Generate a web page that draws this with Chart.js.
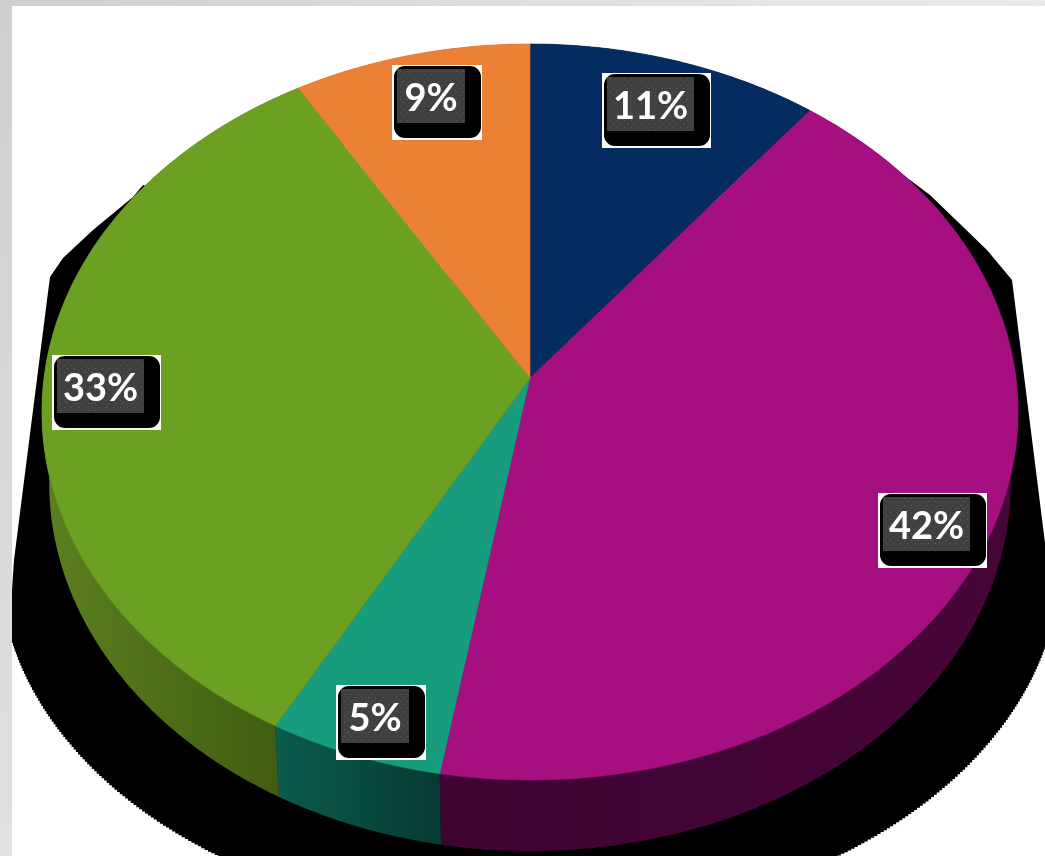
<!DOCTYPE html>
<html>
<head>
<meta charset="utf-8">
<style>
  html, body { margin: 0; padding: 0; width: 1045px; height: 856px; overflow: hidden; }
  body { background: linear-gradient(125deg, #cfcfcf 0%, #e4e4e4 45%, #f2f2f2 100%); position: relative; }
  #panel { position: absolute; left: 12px; top: 6px; right: 0; bottom: 0; background: #fff; }
  #wrap { position: absolute; left: 0; top: 0; width: 1045px; height: 856px; }
  canvas { display: block; }
</style>
<script src="https://cdn.jsdelivr.net/npm/chart.js@4/dist/chart.umd.min.js"></script>
</head>
<body>
<div id="panel"></div>
<div id="wrap"><canvas id="c" width="1045" height="856"></canvas></div>
<script>
const categories = ['11%', '42%', '5%', '33%', '9%'];
const sliceValues = [10.6, 42.1, 5.3, 33.4, 8.6];
const faceColors = ['#042c60', '#a50f80', '#179c7e', '#6ca022', '#ec8035'];
const wallStartColors = ['#031c3e', '#3e0432', '#0b5c4d', '#5b8020', '#8a4a1e'];
const wallEndColors = ['#031c3e', '#470538', '#063a32', '#3f5a10', '#8a4a1e'];

// View of the flat pie as a tilted disc seen in perspective.
const view = { cx: 530, cy: 378, ax: 486, by: 364.9, persp: 0.0924, depth: 71, baseScale: 0.985 };
function project(angle, shift, scale) {
  const u = Math.cos(angle), v = Math.sin(angle);
  const d = 1 - view.persp * v;
  return [view.cx + scale * view.ax * u / d, view.cy + shift + view.by * v / d];
}
function samples(a0, a1) {
  const n = Math.max(2, Math.ceil((a1 - a0) / 0.01));
  const out = [];
  for (let i = 0; i <= n; i++) out.push(a0 + (a1 - a0) * i / n);
  return out;
}

// Pie slices are drawn by the library's arc elements, through the tilted view.
Chart.ArcElement.prototype.draw = function (ctx) {
  const color = this.options.backgroundColor;
  ctx.save();
  ctx.beginPath();
  ctx.moveTo(view.cx, view.cy);
  samples(this.startAngle, this.endAngle).forEach(a => {
    const p = project(a, 0, 1);
    ctx.lineTo(p[0], p[1]);
  });
  ctx.closePath();
  ctx.fillStyle = color;
  ctx.strokeStyle = color;
  ctx.lineWidth = 0.6;
  ctx.fill();
  ctx.stroke();
  ctx.restore();
};

const shadowPlugin = {
  id: 'dropShadow',
  beforeDatasetsDraw(chart) {
    const ctx = chart.ctx;
    ctx.save();
    ctx.beginPath();
    ctx.rect(12, 6, 1033, 850);
    ctx.clip();
    ctx.fillStyle = '#000';
    ctx.beginPath();
    ctx.moveTo(12, 640);
    [[12, 590], [14, 560], [47, 300], [50, 277], [63, 258], [93, 230], [133, 197], [143, 185], [530, 300],
     [850, 135], [930, 195], [987, 250], [1012, 280], [1045, 543], [1060, 564]]
      .forEach(p => ctx.lineTo(p[0], p[1]));
    // Lower edge: a stair-stepped half ellipse, like the rough raster shadow.
    let prev = [1060, 564];
    for (let a = 0; a <= Math.PI; a += 0.008) {
      const q = [530 + 530 * Math.cos(a), 564 + 360 * Math.sin(a)];
      ctx.lineTo(q[0], prev[1]);
      ctx.lineTo(q[0], q[1]);
      prev = q;
    }
    ctx.closePath();
    ctx.fill();
    ctx.restore();
  }
};

const wallPlugin = {
  id: 'discWall',
  beforeDatasetsDraw(chart) {
    const ctx = chart.ctx;
    const arcs = chart.getDatasetMeta(0).data;
    arcs.forEach((arc, i) => {
      const angles = samples(arc.startAngle, arc.endAngle);
      const top = angles.map(a => project(a, 0, 1));
      const base = angles.map(a => project(a, view.depth, view.baseScale)).reverse();
      const xs = top.map(p => p[0]);
      const g = ctx.createLinearGradient(Math.min(...xs), 0, Math.max(...xs), 0);
      g.addColorStop(0, wallStartColors[i]);
      g.addColorStop(1, wallEndColors[i]);
      ctx.beginPath();
      top.concat(base).forEach((p, k) => k ? ctx.lineTo(p[0], p[1]) : ctx.moveTo(p[0], p[1]));
      ctx.closePath();
      ctx.fillStyle = g;
      ctx.fill();
    });
  }
};

function dotPattern(ctx) {
  const t = document.createElement('canvas');
  t.width = 7; t.height = 7;
  const c = t.getContext('2d');
  c.fillStyle = '#404040';
  c.fillRect(0, 0, 7, 7);
  c.fillStyle = '#5a5a5a';
  c.fillRect(1, 1, 1, 1);
  c.fillRect(4, 4, 1, 1);
  return ctx.createPattern(t, 'repeat');
}

const labelPlugin = {
  id: 'percentBadges',
  afterDatasetsDraw(chart, args, opts) {
    const ctx = chart.ctx;
    const pattern = dotPattern(ctx);
    categories.forEach((text, i) => {
      const [l, t] = opts.anchors[i];
      const w = text.length > 2 ? 109 : 90, h = 75;
      ctx.fillStyle = '#fff';
      ctx.fillRect(l, t, w, h);
      ctx.fillStyle = '#000';
      ctx.beginPath();
      ctx.roundRect(l + 2, t + 1, w - 3, h - 3, 11);
      ctx.fill();
      ctx.fillStyle = pattern;
      ctx.fillRect(l + 5, t + 4, w - 22, h - 21);
      ctx.fillStyle = '#fff';
      ctx.font = '700 38px Lato, "Open Sans", sans-serif';
      ctx.textAlign = 'center';
      ctx.textBaseline = 'middle';
      ctx.fillText(text, l + 5 + (w - 22) / 2, t + 4 + (h - 21) / 2 + 3);
    });
  }
};

new Chart(document.getElementById('c'), {
  type: 'pie',
  data: {
    labels: categories,
    datasets: [{ data: sliceValues, backgroundColor: faceColors, borderWidth: 0 }]
  },
  options: {
    responsive: false,
    animation: false,
    plugins: {
      legend: { display: false },
      tooltip: { enabled: false },
      percentBadges: {
        anchors: [[602, 73], [878, 493], [336, 685], [52, 355], [392, 65]]
      }
    }
  },
  plugins: [shadowPlugin, wallPlugin, labelPlugin]
});
</script>
</body>
</html>
